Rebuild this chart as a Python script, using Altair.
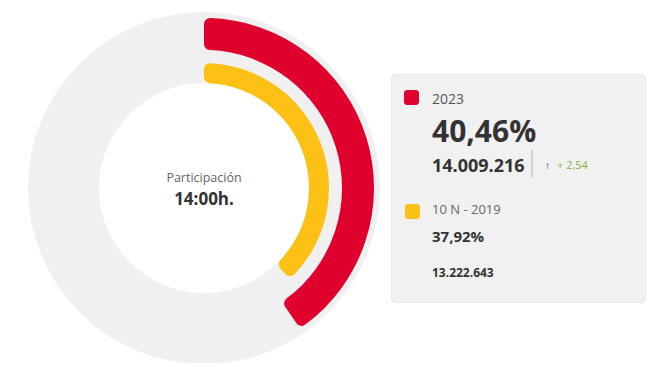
import math
import altair as alt
import pandas as pd

# Data
series = ["2023", "10 N - 2019"]
percent = [40.46, 37.92]
percent_labels = ["40,46%", "37,92%"]
votes_labels = ["14.009.216", "13.222.643"]
diff_label = "+ 2,54"
center_title = "Participación"
center_time = "14:00h."
colors = ["#E0002D", "#FCC114"]

FONT = "Open Sans"
CX, CY = 196, 180
TWO_PI = 2 * math.pi

df = pd.DataFrame({"serie": series, "pct": percent, "color": colors})
one = pd.DataFrame({"k": [0]})

theta_scale = alt.Scale(domain=[0, 100], range=[0, TWO_PI])

ring = alt.Chart(one).mark_arc(radius=176, radius2=105, color="#F0F0F0").encode(
    x=alt.value(CX), y=alt.value(CY), theta=alt.value(0), theta2=alt.value(TWO_PI)
)

red_arc = alt.Chart(df).transform_filter(alt.datum.serie == series[0]).mark_arc(
    radius=170, radius2=138, cornerRadius=6
).encode(
    x=alt.value(CX), y=alt.value(CY),
    theta=alt.Theta("pct:Q", scale=theta_scale), theta2=alt.value(0),
    color=alt.Color("color:N", scale=None),
)

yellow_arc = alt.Chart(df).transform_filter(alt.datum.serie == series[1]).mark_arc(
    radius=125, radius2=105, cornerRadius=6
).encode(
    x=alt.value(CX), y=alt.value(CY),
    theta=alt.Theta("pct:Q", scale=theta_scale), theta2=alt.value(0),
    color=alt.Color("color:N", scale=None),
)

def txt(text, x, y, size, color, weight="normal", align="left"):
    return alt.Chart(one).mark_text(
        text=text, font=FONT, fontSize=size, fontWeight=weight, color=color,
        align=align, baseline="alphabetic"
    ).encode(x=alt.value(x), y=alt.value(y))

def rect(x, x2, y, y2, fill, r=0):
    return alt.Chart(one).mark_rect(fill=fill, cornerRadius=r).encode(
        x=alt.value(x), x2=alt.value(x2), y=alt.value(y), y2=alt.value(y2)
    )

box_shadow = rect(383, 638, 66, 295, "#E9E9E9", 5)
box = rect(384, 637, 67, 294, "#F1F1F1", 4)
sq_red = rect(396, 411, 82, 97, colors[0], 3)
sq_yellow = rect(397, 412, 196, 211, colors[1], 3)

vline = alt.Chart(one).mark_rule(color="#B0B0B0", strokeWidth=1).encode(
    x=alt.value(524), y=alt.value(142), y2=alt.value(169)
)

layers = [
    ring, red_arc, yellow_arc,
    txt(center_title, CX, 174, 12.5, "#666666", align="center"),
    txt(center_time, CX, 197, 17, "#333333", "bold", align="center"),
    box_shadow, box, sq_red, sq_yellow, vline,
    txt(series[0], 424, 96, 14, "#555555"),
    txt(percent_labels[0], 424, 134, 30, "#333333", "bold"),
    txt(votes_labels[0], 424, 164, 18, "#333333", "bold"),
    txt("↑", 537, 161, 10, "#333333", "bold"),
    txt(diff_label, 549, 161, 11, "#7CB342"),
    txt(series[1], 424, 206, 13, "#666666"),
    txt(percent_labels[1], 424, 234, 15, "#333333", "bold"),
    txt(votes_labels[1], 424, 269, 12, "#333333", "bold"),
]

chart = alt.layer(*layers).properties(
    width=643, height=355, padding=0, autosize=alt.AutoSizeParams(type="none")
).configure(background="white", view=alt.ViewConfig(stroke=None))

chart.save("out.html", embed_options={"renderer": "svg", "actions": False})
